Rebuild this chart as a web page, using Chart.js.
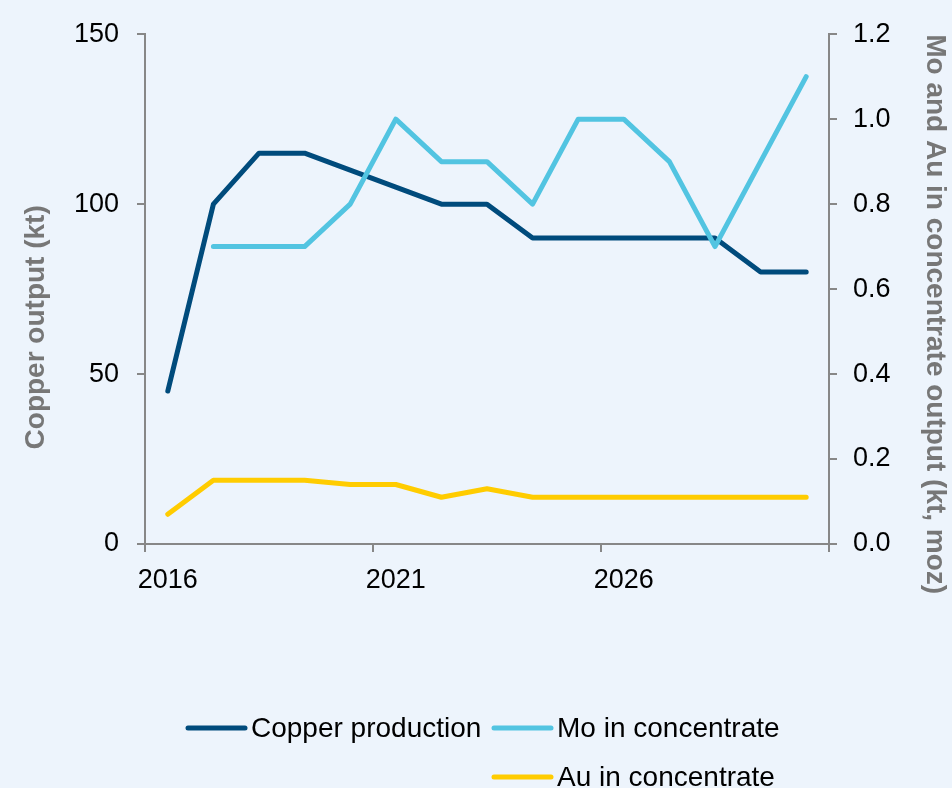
<!DOCTYPE html>
<html>
<head>
<meta charset="utf-8">
<script src="https://cdn.jsdelivr.net/npm/chart.js@4.4.0/dist/chart.umd.min.js"></script>
<style>
  html, body { margin: 0; padding: 0; background: #EDF4FC; }
  canvas { display: block; }
</style>
</head>
<body>
<canvas id="chart" width="952" height="788"></canvas>
<script>
// ---- data ----
const years = ['2016','2017','2018','2019','2020','2021','2022','2023','2024','2025','2026','2027','2028','2029','2030'];
const copperProduction = [45, 100, 115, 115, 110, 105, 100, 100, 90, 90, 90, 90, 90, 80, 80];
const moInConcentrate  = [null, 0.7, 0.7, 0.7, 0.8, 1.0, 0.9, 0.9, 0.8, 1.0, 1.0, 0.9, 0.7, 0.9, 1.1];
const auInConcentrate  = [0.07, 0.15, 0.15, 0.15, 0.14, 0.14, 0.11, 0.13, 0.11, 0.11, 0.11, 0.11, 0.11, 0.11, 0.11];
const seriesNames = ['Copper production', 'Mo in concentrate', 'Au in concentrate'];
const leftAxisTitle = 'Copper output (kt)';
const rightAxisTitle = 'Mo and Au in concentrate output (kt, moz)';
const leftTickValues = [0, 50, 100, 150];
const rightTickValues = [0, 0.2, 0.4, 0.6, 0.8, 1.0, 1.2];
const xLabelEvery = 5;

// ---- styles ----
const BG = '#EDF4FC';
const AXIS = '#878787';
const TITLE_GRAY = '#777777';
const FONT = "'Liberation Sans', Arial, sans-serif";
const COLORS = ['#004B7C', '#52C4E1', '#FFCC00'];

const bgPlugin = {
  id: 'bgFill',
  beforeDraw(chart) {
    const c = chart.ctx;
    c.save();
    c.fillStyle = BG;
    c.fillRect(0, 0, chart.width, chart.height);
    c.restore();
  }
};

// left axis title, placed a little below the axis middle as in the original
const leftTitlePlugin = {
  id: 'leftTitle',
  afterDraw(chart) {
    const c = chart.ctx;
    const a = chart.chartArea;
    c.save();
    c.translate(36, a.top + (a.bottom - a.top) * 0.575);
    c.rotate(-Math.PI / 2);
    c.font = 'bold 28px ' + FONT;
    c.fillStyle = TITLE_GRAY;
    c.textAlign = 'center';
    c.textBaseline = 'middle';
    c.fillText(leftAxisTitle, 0, 0);
    c.restore();
  }
};

// legend laid out in two columns, like the original
const legendPlugin = {
  id: 'gridLegend',
  afterDraw(chart) {
    const c = chart.ctx;
    const slots = [
      { x: 188, y: 728 },
      { x: 494, y: 728 },
      { x: 494, y: 777 }
    ];
    c.save();
    c.font = '28px ' + FONT;
    c.textBaseline = 'middle';
    c.textAlign = 'left';
    chart.data.datasets.forEach((ds, i) => {
      const s = slots[i];
      c.strokeStyle = ds.borderColor;
      c.lineWidth = 5;
      c.lineCap = 'round';
      c.beginPath();
      c.moveTo(s.x, s.y);
      c.lineTo(s.x + 57, s.y);
      c.stroke();
      c.fillStyle = '#000000';
      c.fillText(ds.label, s.x + 63, s.y + 1);
    });
    c.restore();
  }
};

const gridCommon = {
  display: true,
  drawOnChartArea: false,
  drawTicks: true,
  tickLength: 8,
  tickWidth: 2,
  tickColor: AXIS,
  color: AXIS,
  lineWidth: 2
};

new Chart(document.getElementById('chart'), {
  type: 'line',
  data: {
    labels: years,
    datasets: [
      { label: seriesNames[0], data: copperProduction, yAxisID: 'y',  borderColor: COLORS[0], backgroundColor: COLORS[0], order: 3 },
      { label: seriesNames[1], data: moInConcentrate,  yAxisID: 'y1', borderColor: COLORS[1], backgroundColor: COLORS[1], order: 2 },
      { label: seriesNames[2], data: auInConcentrate,  yAxisID: 'y1', borderColor: COLORS[2], backgroundColor: COLORS[2], order: 1 }
    ]
  },
  options: {
    responsive: false,
    animation: false,
    devicePixelRatio: 1,
    layout: { padding: { top: 28, left: 0, right: 0, bottom: 0 } },
    elements: {
      line: { borderWidth: 5, tension: 0, borderCapStyle: 'round', borderJoinStyle: 'round', fill: false },
      point: { radius: 0, hoverRadius: 0 }
    },
    plugins: {
      legend: { display: false },
      tooltip: { enabled: false }
    },
    scales: {
      x: {
        type: 'category',
        offset: true,
        border: { display: true, color: AXIS, width: 2 },
        grid: Object.assign({}, gridCommon, {
          offset: true,
          tickColor: ctx => (ctx.index === undefined || ctx.index % xLabelEvery === 0) ? AXIS : 'rgba(0,0,0,0)'
        }),
        ticks: {
          autoSkip: false,
          maxRotation: 0,
          minRotation: 0,
          padding: 12,
          color: '#000000',
          font: { family: FONT, size: 27 },
          callback: function (value, index) {
            return index % xLabelEvery === 0 ? this.getLabelForValue(value) : '';
          }
        },
        afterFit: s => { s.height = 244; }
      },
      y: {
        type: 'linear',
        position: 'left',
        min: leftTickValues[0],
        max: leftTickValues[leftTickValues.length - 1],
        border: { display: true, color: AXIS, width: 2 },
        grid: gridCommon,
        afterBuildTicks: s => { s.ticks = leftTickValues.map(v => ({ value: v })); },
        ticks: {
          padding: 18,
          color: '#000000',
          font: { family: FONT, size: 27 },
          callback: v => String(v)
        },
        afterFit: s => { s.width = 145; }
      },
      y1: {
        type: 'linear',
        position: 'right',
        min: rightTickValues[0],
        max: rightTickValues[rightTickValues.length - 1],
        border: { display: true, color: AXIS, width: 2 },
        grid: gridCommon,
        afterBuildTicks: s => { s.ticks = rightTickValues.map(v => ({ value: v })); },
        ticks: {
          padding: 16,
          color: '#000000',
          font: { family: FONT, size: 27 },
          callback: v => Number(v).toFixed(1)
        },
        title: {
          display: true,
          text: rightAxisTitle,
          align: 'end',
          color: TITLE_GRAY,
          font: { family: FONT, size: 28, weight: 'bold' },
          padding: { top: 0, bottom: 0 }
        },
        afterFit: s => { s.width = 123; }
      }
    }
  },
  plugins: [bgPlugin, leftTitlePlugin, legendPlugin]
});
</script>
</body>
</html>
